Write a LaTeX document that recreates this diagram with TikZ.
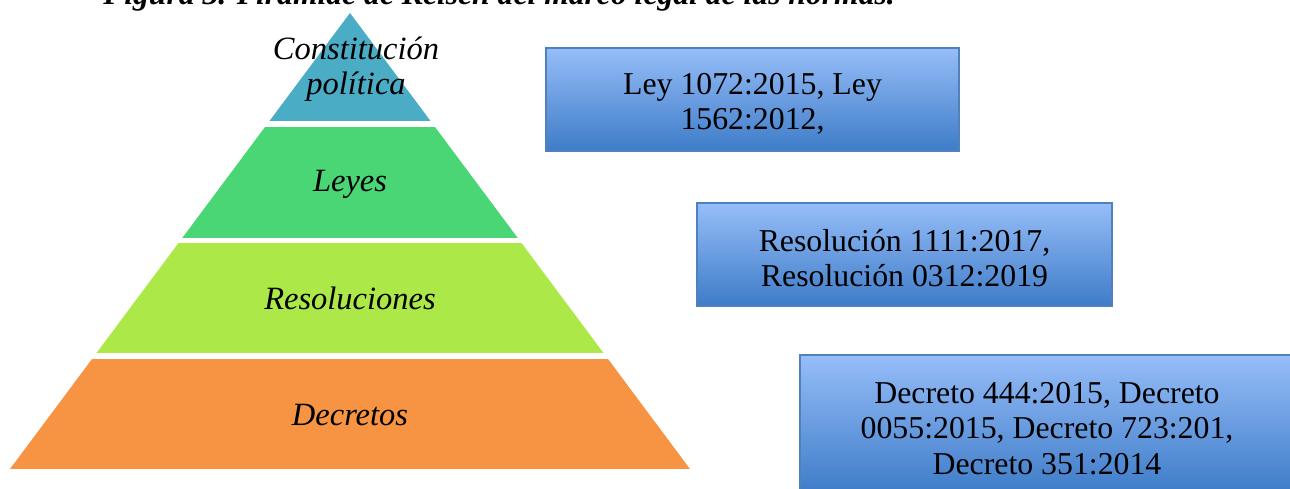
\documentclass[tikz,border=0pt]{standalone}
\usepackage{fontspec}
\setmainfont{Liberation Serif}
\definecolor{capablue}{RGB}{75,172,198}
\definecolor{capagreen}{RGB}{74,214,116}
\definecolor{capalime}{RGB}{172,232,72}
\definecolor{capaorange}{RGB}{246,148,68}
\definecolor{boxtop}{RGB}{150,189,248}
\definecolor{boxbottom}{RGB}{62,124,200}
\definecolor{boxedge}{RGB}{79,129,189}
\newcommand{\cajastrut}{\rule{0pt}{17pt}}

\begin{document}
\begin{tikzpicture}[x=0.02cm, y=-0.02cm,
  nivel/.style={font=\fontsize{18.5}{19.9}\selectfont\itshape, align=center, inner sep=0pt},
  lawbox/.style={draw=boxedge, line width=0.7pt, top color=boxtop, bottom color=boxbottom, align=center, inner sep=0pt, font=\fontsize{18.1}{20.1}\selectfont}
]
  \useasboundingbox (0,0) rectangle (1290,489);
  \clip (0,0) rectangle (1290,489);
  % caption, cut by the top edge
  \node[anchor=base, inner sep=0pt, font=\fontsize{18}{20}\selectfont\bfseries\itshape] (titulo) at (499,5) {Figura 3. Pirámide de Kelsen del marco legal de las normas.};
  % pyramid
  \begin{scope}
    \clip (350,13) -- (10,469) -- (690,469) -- cycle;
    \fill[capablue] (0,0) rectangle (700,121);
    \fill[capagreen] (0,127) rectangle (700,238);
    \fill[capalime] (0,243) rectangle (700,353);
    \fill[capaorange] (0,359) rectangle (700,469);
  \end{scope}
  \node[nivel, anchor=north] (constitucion) at (356,37) {Constitución\\política};
  \node[nivel, anchor=base] (leyes) at (350,192) {Leyes};
  \node[nivel, anchor=base] (resoluciones) at (350,309) {Resoluciones};
  \node[nivel, anchor=base] (decretos) at (350,425) {Decretos};
  % boxes
  \node[lawbox, minimum width=8.26cm, minimum height=2.06cm] (normasleyes) at (752.5,99.5) {\cajastrut Ley 1072:2015, Ley\\1562:2012,};
  \node[lawbox, minimum width=8.3cm, minimum height=2.06cm] (normasres) at (904.5,254.5) {\cajastrut Resolución 1111:2017,\\Resolución 0312:2019};
  \node[lawbox, minimum width=9.88cm, minimum height=2.76cm] (normasdec) at (1047,424) {\cajastrut Decreto 444:2015, Decreto\\0055:2015, Decreto 723:201,\\Decreto 351:2014};
\end{tikzpicture}
\end{document}
